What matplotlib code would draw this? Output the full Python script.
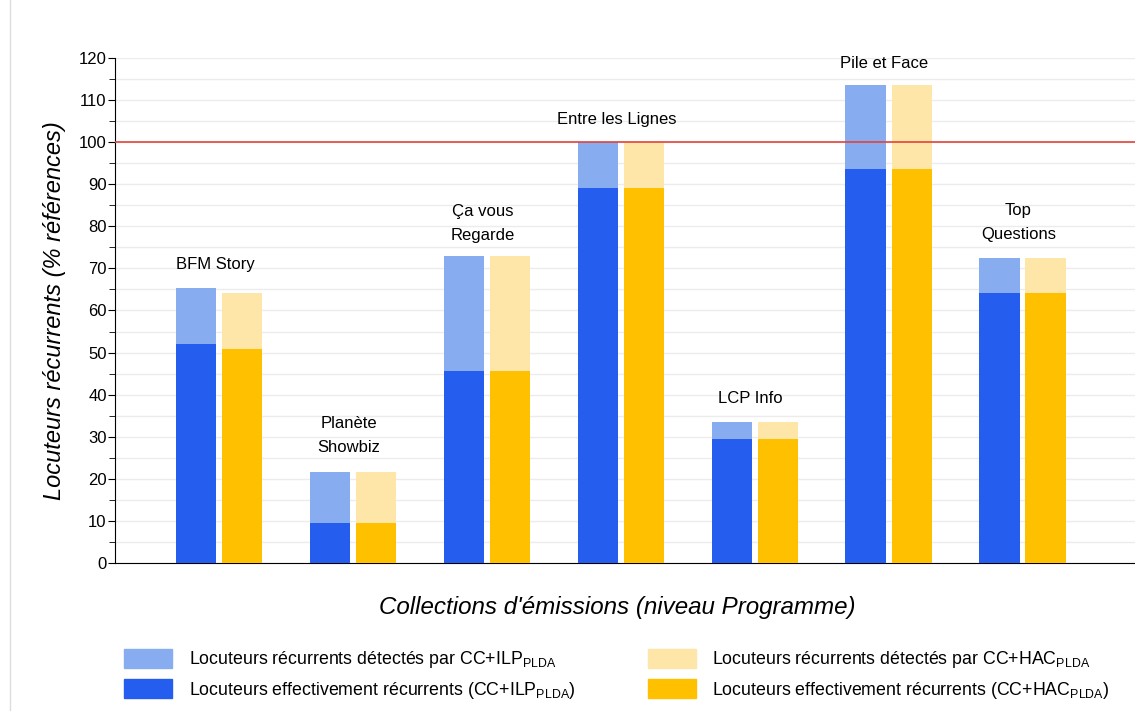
import matplotlib.pyplot as plt
import numpy as np
from matplotlib.patches import Patch
from matplotlib.lines import Line2D

plt.rcParams['font.family'] = ['Liberation Sans', 'DejaVu Sans']
plt.rcParams['mathtext.fontset'] = 'custom'
plt.rcParams['mathtext.rm'] = 'Liberation Sans'

programmes = ["BFM Story", "Planète\nShowbiz", "Ça vous\nRegarde", "Entre les Lignes",
              "LCP Info", "Pile et Face", "Top\nQuestions"]
ilp_detectes = [65.3, 21.6, 73.0, 100.0, 33.5, 113.6, 72.5]
ilp_effectifs = [52.0, 9.5, 45.6, 89.1, 29.5, 93.6, 64.2]
hac_detectes = [64.2, 21.6, 73.0, 100.0, 33.5, 113.6, 72.5]
hac_effectifs = [50.9, 9.5, 45.6, 89.1, 29.5, 93.6, 64.2]
# centre vertical des étiquettes au-dessus des barres
label_y = [70.9, 30.2, 80.7, 105.5, 39.2, 118.6, 80.9]

c_blue = "#255dee"
c_blue_l = "#87acf0"
c_yel = "#ffc000"
c_yel_l = "#fee5a8"

fig = plt.figure(figsize=(11.35, 7.11), dpi=100)
ax = fig.add_axes([0.1013, 0.2082, 0.8987, 0.7102])

x = np.arange(len(programmes))
w = 0.3
off = 0.172

ax.bar(x - off, ilp_detectes, w, color=c_blue_l, zorder=2)
ax.bar(x - off, ilp_effectifs, w, color=c_blue, zorder=3)
ax.bar(x + off, hac_detectes, w, color=c_yel_l, zorder=2)
ax.bar(x + off, hac_effectifs, w, color=c_yel, zorder=3)

for i, lab in enumerate(programmes):
    ax.text(x[i] - 0.03, label_y[i], lab, ha="center", va="center", fontsize=12,
            linespacing=1.75, clip_on=False)

ax.axhline(100, color="#e0443a", lw=1.2, zorder=4)

ax.set_xlim(-0.776, 6.84)
ax.set_ylim(0, 120)
ax.set_yticks(np.arange(0, 121, 10))
ax.set_yticks(np.arange(5, 120, 10), minor=True)
ax.set_xticks([])
ax.tick_params(axis="y", which="major", length=5, labelsize=12, direction="out", pad=1)
ax.tick_params(axis="y", which="minor", length=4)
ax.grid(axis="y", which="both", color="#ececec", lw=1, zorder=0)
ax.set_axisbelow(True)
for s in ["top", "right"]:
    ax.spines[s].set_visible(False)

ax.set_ylabel("Locuteurs récurrents (% références)", fontsize=17, style="italic",
              labelpad=9)
ax.set_xlabel("Collections d'émissions (niveau Programme)", fontsize=17.4,
              style="italic")
ax.xaxis.set_label_coords(0.492, -0.065)

handles = [Patch(color=c_blue_l), Patch(color=c_blue),
           Patch(color=c_yel_l), Patch(color=c_yel)]
labels = ["Locuteurs récurrents détectés par CC+ILP$_{\\mathrm{PLDA}}$",
          "Locuteurs effectivement récurrents (CC+ILP$_{\\mathrm{PLDA}}$)",
          "Locuteurs récurrents détectés par CC+HAC$_{\\mathrm{PLDA}}$",
          "Locuteurs effectivement récurrents (CC+HAC$_{\\mathrm{PLDA}}$)"]
fig.legend(handles, labels, ncol=2, loc="lower left", bbox_to_anchor=(0.1013, 0.002),
           frameon=False, fontsize=12.8, handlelength=2.7, handleheight=1.24,
           handletextpad=0.95, columnspacing=4.05, labelspacing=0.5, borderpad=0)

fig.add_artist(Line2D([0.009, 0.009], [0.0, 1.0], color="#dddddd", lw=1,
                      transform=fig.transFigure))

fig.savefig("out.png", dpi=100)
